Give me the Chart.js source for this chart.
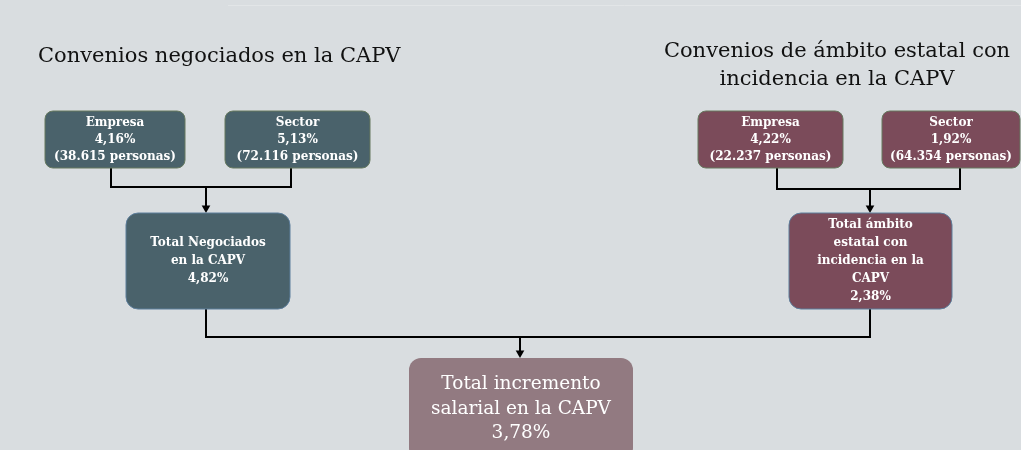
<!DOCTYPE html>
<html>
<head>
<meta charset="utf-8">
<script src="https://cdn.jsdelivr.net/npm/chart.js@4/dist/chart.umd.min.js"></script>
<style>
  html, body { margin: 0; padding: 0; background: #d9dde0; }
  #wrap { width: 1021px; height: 450px; }
</style>
</head>
<body>
<div id="wrap"><canvas id="flow"></canvas></div>
<script>
// group headings
const groupTitles = ['Convenios negociados en la CAPV', 'Convenios de ámbito estatal con\nincidencia en la CAPV'];

// nodes of the diagram
const nodeNames = ['Empresa', 'Sector', 'Empresa', 'Sector',
  'Total Negociados\nen la CAPV', 'Total ámbito\nestatal con\nincidencia en la\nCAPV',
  'Total incremento\nsalarial en la CAPV'];
const nodeValues = [4.16, 5.13, 4.22, 1.92, 4.82, 2.38, 3.78];
const nodePersons = [38615, 72116, 22237, 64354, null, null, null];

// layout, in the hidden axis units (0..1021 across, 0..450 down)
const nodeBoxes = [
  [45, 111, 185, 168], [225, 111, 370, 168], [698, 111, 843, 168], [882, 111, 1020, 168],
  [126, 213, 290, 309], [789, 213, 952, 309], [409, 358, 633, 460]
];
const nodeStyle = ['small', 'small', 'smallR', 'smallR', 'total', 'totalR', 'final'];
const titlePos = [[38, 57, 'left'], [837, 52, 'center']];

const connectors = [
  [[111, 168], [111, 187], [291, 187], [291, 168]],
  [[777, 168], [777, 189], [960, 189], [960, 168]],
  [[206, 309], [206, 337], [870, 337], [870, 309]]
];
const arrows = [
  [[206, 187], [206, 208]],
  [[870, 189], [870, 208]],
  [[520, 337], [520, 353]]
];

const SERIF = '"DejaVu Serif"';
const styles = {
  small:  { fill: '#4a626b', stroke: '#66795f', r: 8,  font: 'bold 12px ' + SERIF, lh: 17 },
  smallR: { fill: '#7b4b5a', stroke: '#66795f', r: 8,  font: 'bold 12px ' + SERIF, lh: 17 },
  total:  { fill: '#4a626b', stroke: '#5d7e9c', r: 12, font: 'bold 12px ' + SERIF, lh: 18 },
  totalR: { fill: '#7b4b5a', stroke: '#5d7e9c', r: 12, font: 'bold 12px ' + SERIF, lh: 18 },
  final:  { fill: '#927a81', stroke: null,      r: 12, font: '18.5px ' + SERIF,    lh: 24.5 }
};

function pct(v) { return v.toFixed(2).replace('.', ',') + '%'; }
function thousands(n) { return String(n).replace(/\B(?=(\d{3})+(?!\d))/g, '.'); }

const datasets = [];
connectors.forEach(c => datasets.push({
  type: 'line', data: c.map(p => ({ x: p[0], y: p[1] })),
  borderColor: '#000', borderWidth: 2, pointRadius: 0, fill: false, tension: 0
}));
arrows.forEach(a => datasets.push({
  type: 'line', data: a.map(p => ({ x: p[0], y: p[1] })),
  borderColor: '#000', backgroundColor: '#000', borderWidth: 2, fill: false,
  pointStyle: 'triangle', pointRadius: [0, 5], pointRotation: 180, pointBorderWidth: 0
}));

const nodesPlugin = {
  id: 'nodes',
  beforeDatasetsDraw(chart) {
    // faint rule along the top edge
    const ctx = chart.ctx;
    ctx.save();
    ctx.strokeStyle = '#e2e5e7';
    ctx.lineWidth = 1;
    ctx.beginPath();
    ctx.moveTo(chart.scales.x.getPixelForValue(228), 5.5);
    ctx.lineTo(chart.scales.x.getPixelForValue(1021), 5.5);
    ctx.stroke();
    ctx.restore();
  },
  afterDatasetsDraw(chart) {
    const ctx = chart.ctx, xs = chart.scales.x, ys = chart.scales.y;
    ctx.save();
    nodeBoxes.forEach((b, i) => {
      const st = styles[nodeStyle[i]];
      const x0 = xs.getPixelForValue(b[0]), x1 = xs.getPixelForValue(b[2]);
      const y0 = ys.getPixelForValue(b[1]), y1 = ys.getPixelForValue(b[3]);
      ctx.beginPath();
      ctx.roundRect(x0, y0, x1 - x0, y1 - y0, st.r);
      ctx.fillStyle = st.fill;
      ctx.fill();
      if (st.stroke) { ctx.strokeStyle = st.stroke; ctx.lineWidth = 1; ctx.stroke(); }
      const lines = nodeNames[i].split('\n');
      lines.push(pct(nodeValues[i]));
      if (nodePersons[i] !== null) lines.push('(' + thousands(nodePersons[i]) + ' personas)');
      ctx.font = st.font;
      ctx.fillStyle = '#ffffff';
      ctx.textAlign = 'center';
      ctx.textBaseline = 'middle';
      const cx = (x0 + x1) / 2;
      const isFinal = nodeStyle[i] === 'final';
      const boxH = isFinal ? (ys.getPixelForValue(450) - y0) : (y1 - y0);
      const cy = y0 + boxH / 2 + (isFinal ? 5 : 0);
      lines.forEach((t, k) => {
        ctx.fillText(t, cx, cy + (k - (lines.length - 1) / 2) * st.lh);
      });
    });
    // headings
    ctx.font = '21px ' + SERIF;
    ctx.fillStyle = '#111';
    ctx.textBaseline = 'middle';
    groupTitles.forEach((t, i) => {
      const p = titlePos[i];
      ctx.textAlign = p[2];
      t.split('\n').forEach((ln, k) => {
        ctx.fillText(ln, xs.getPixelForValue(p[0]), ys.getPixelForValue(p[1] + k * 28));
      });
    });
    ctx.restore();
  }
};

new Chart(document.getElementById('flow'), {
  type: 'scatter',
  data: { datasets },
  options: {
    responsive: true,
    maintainAspectRatio: false,
    animation: false,
    layout: { padding: 0, autoPadding: false },
    scales: {
      x: { type: 'linear', min: 0, max: 1021, display: false },
      y: { type: 'linear', min: 0, max: 450, reverse: true, display: false }
    },
    plugins: { legend: { display: false }, tooltip: { enabled: false } }
  },
  plugins: [nodesPlugin]
});
</script>
</body>
</html>
